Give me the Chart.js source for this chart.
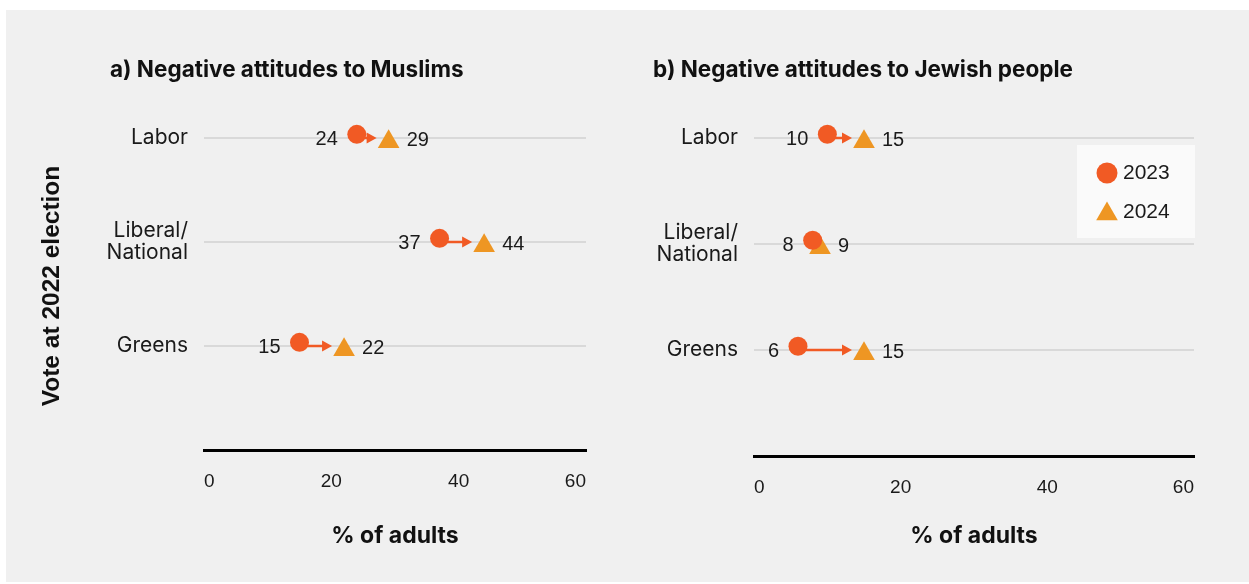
<!DOCTYPE html>
<html>
<head>
<meta charset="utf-8">
<script src="https://cdn.jsdelivr.net/npm/chart.js@4.4.1/dist/chart.umd.min.js"></script>
<style>
  html, body { margin: 0; padding: 0; background: #fff; }
  #bg { position: absolute; left: 6px; top: 10px; width: 1243px; height: 572px; background: #f0f0f0; }
  .panel { position: absolute; top: 0; height: 584px; }
</style>
</head>
<body>
<div id="bg"></div>
<div class="panel" style="left:0;width:624px"><canvas id="muslims"></canvas></div>
<div class="panel" style="left:624px;width:625px"><canvas id="jewish"></canvas></div>
<script>
// data
const parties = [['Labor'], ['Liberal/', 'National'], ['Greens']];
const years = ['2023', '2024'];
const muslims2023 = [24, 37, 15];
const muslims2024 = [29, 44, 22];
const jewish2023 = [10, 8, 6];
const jewish2024 = [15, 9, 15];
const xTicks = [0, 20, 40, 60];

const RED = '#F15A24';
const ORANGE = '#EE9623';
const TEXT = '#1a1a1a';
const SANS = "'Liberation Sans', Arial, sans-serif";
const HEAD = "Inter, Roboto, sans-serif";

// arrows from 2023 to 2024 (drawn under the markers) + value labels
const arrowPlugin = {
    id: 'arrowPlugin',
    beforeDatasetsDraw(chart) {
        const { ctx, scales: { y } } = chart;
        const circles = chart.getDatasetMeta(0).data;
        const tris = chart.getDatasetMeta(1).data;
        ctx.save();
        ctx.strokeStyle = RED;
        ctx.fillStyle = RED;
        ctx.lineWidth = 2.5;
        circles.forEach((c, i) => {
            const t = tris[i];
            const rowY = y.getPixelForValue(i + 1);
            const tip = t.x - 12;
            if (tip - c.x < 16) return;
            ctx.beginPath();
            ctx.moveTo(c.x, rowY);
            ctx.lineTo(tip - 8, rowY);
            ctx.stroke();
            ctx.beginPath();
            ctx.moveTo(tip, rowY);
            ctx.lineTo(tip - 10, rowY - 5.5);
            ctx.lineTo(tip - 10, rowY + 5.5);
            ctx.closePath();
            ctx.fill();
        });
        ctx.restore();
    },
    afterDatasetsDraw(chart) {
        const { ctx, scales: { y } } = chart;
        const ds = chart.data.datasets;
        const circles = chart.getDatasetMeta(0).data;
        const tris = chart.getDatasetMeta(1).data;
        ctx.save();
        ctx.font = '20px ' + SANS;
        ctx.fillStyle = TEXT;
        ctx.textBaseline = 'middle';
        circles.forEach((c, i) => {
            const rowY = y.getPixelForValue(i + 1) + 1;
            ctx.textAlign = 'right';
            ctx.fillText(ds[0].data[i].x, c.x - 19, rowY);
            ctx.textAlign = 'left';
            ctx.fillText(ds[1].data[i].x, tris[i].x + 18, rowY + 1);
        });
        ctx.restore();
    }
};

// panel heading, y axis caption and the legend box
const panelPlugin = {
    id: 'panelPlugin',
    afterDraw(chart, args, opts) {
        const { ctx } = chart;
        ctx.save();
        ctx.font = 'bold 22.5px ' + HEAD;
        ctx.fillStyle = '#111';
        ctx.textBaseline = 'middle';
        ctx.textAlign = 'left';
        ctx.fillText(opts.title, opts.titleX, 70);
        if (opts.yTitle) {
            ctx.save();
            ctx.translate(52, 286);
            ctx.rotate(-Math.PI / 2);
            ctx.textAlign = 'center';
            ctx.font = 'bold 24.5px ' + SANS;
            ctx.fillText(opts.yTitle, 0, 0);
            ctx.restore();
        }
        if (opts.legend) {
            const lg = opts.legend;
            ctx.fillStyle = '#fafafa';
            ctx.fillRect(lg.x, lg.y, 118, 93);
            chart.data.datasets.forEach((ds, k) => {
                const cy = lg.y + 28 + k * 39;
                ctx.fillStyle = ds.backgroundColor;
                Chart.helpers.drawPoint(ctx, {
                    pointStyle: ds.pointStyle, rotation: 0,
                    radius: k === 0 ? 10.5 : 12.5, borderWidth: 0
                }, lg.x + 30, cy + (k === 0 ? 0 : 2));
                ctx.fillStyle = TEXT;
                ctx.font = '21px ' + SANS;
                ctx.fillText(ds.label, lg.x + 46, cy);
            });
        }
        ctx.restore();
    }
};

function makePanel(id, title, v23, v24, geo) {
    const padLeft = 20;
    return new Chart(document.getElementById(id), {
        type: 'scatter',
        data: {
            datasets: [
                {
                    label: years[0],
                    data: v23.map((v, i) => ({ x: v, y: i + 1 - 0.035 })),
                    backgroundColor: RED,
                    borderWidth: 0,
                    pointStyle: 'circle',
                    pointRadius: 9.5,
                    pointHoverRadius: 9.5
                },
                {
                    label: years[1],
                    data: v24.map((v, i) => ({ x: v, y: i + 1 + 0.035 })),
                    backgroundColor: ORANGE,
                    borderWidth: 0,
                    pointStyle: 'triangle',
                    pointRadius: 12.5,
                    pointHoverRadius: 12.5
                }
            ]
        },
        options: {
            responsive: true,
            maintainAspectRatio: false,
            animation: false,
            events: [],
            layout: { padding: { left: padLeft, right: geo.right, top: geo.top, bottom: 0 } },
            plugins: {
                legend: { display: false },
                tooltip: { enabled: false },
                panelPlugin: { title: title, titleX: geo.titleX, yTitle: geo.yTitle, legend: geo.legend }
            },
            scales: {
                x: {
                    type: 'linear',
                    min: 0,
                    max: 60,
                    afterBuildTicks: s => { s.ticks = xTicks.map(v => ({ value: v })); },
                    afterFit: s => { s.height = 584 - geo.bottom; },
                    grid: { display: false, drawTicks: false },
                    border: { display: true, color: '#000', width: 3 },
                    ticks: { font: { size: 19, family: SANS }, color: TEXT, padding: 20, align: 'inner', maxRotation: 0 },
                    title: {
                        display: true, text: '% of adults', color: '#111',
                        font: { size: 23, weight: 'bold', family: HEAD },
                        padding: { top: 0, bottom: 34 }
                    }
                },
                y: {
                    type: 'linear',
                    reverse: true,
                    min: 0.5,
                    max: 4,
                    afterBuildTicks: s => { s.ticks = parties.map((p, i) => ({ value: i + 1 })); },
                    afterFit: s => { s.width = geo.left - padLeft; },
                    grid: { color: '#d9d9d9', lineWidth: 2, drawTicks: false },
                    border: { display: false },
                    ticks: {
                        font: { size: 21, family: HEAD, lineHeight: 1.05 },
                        color: TEXT,
                        padding: 16,
                        callback: v => parties[v - 1]
                    }
                }
            }
        },
        plugins: [arrowPlugin, panelPlugin]
    });
}

makePanel('muslims', 'a) Negative attitudes to Muslims', muslims2023, muslims2024,
    { left: 204, right: 38, top: 86, bottom: 450, titleX: 110, yTitle: 'Vote at 2022 election' });
makePanel('jewish', 'b) Negative attitudes to Jewish people', jewish2023, jewish2024,
    { left: 130, right: 55, top: 85, bottom: 456, titleX: 29, yTitle: null, legend: { x: 453, y: 145 } });
</script>
</body>
</html>
